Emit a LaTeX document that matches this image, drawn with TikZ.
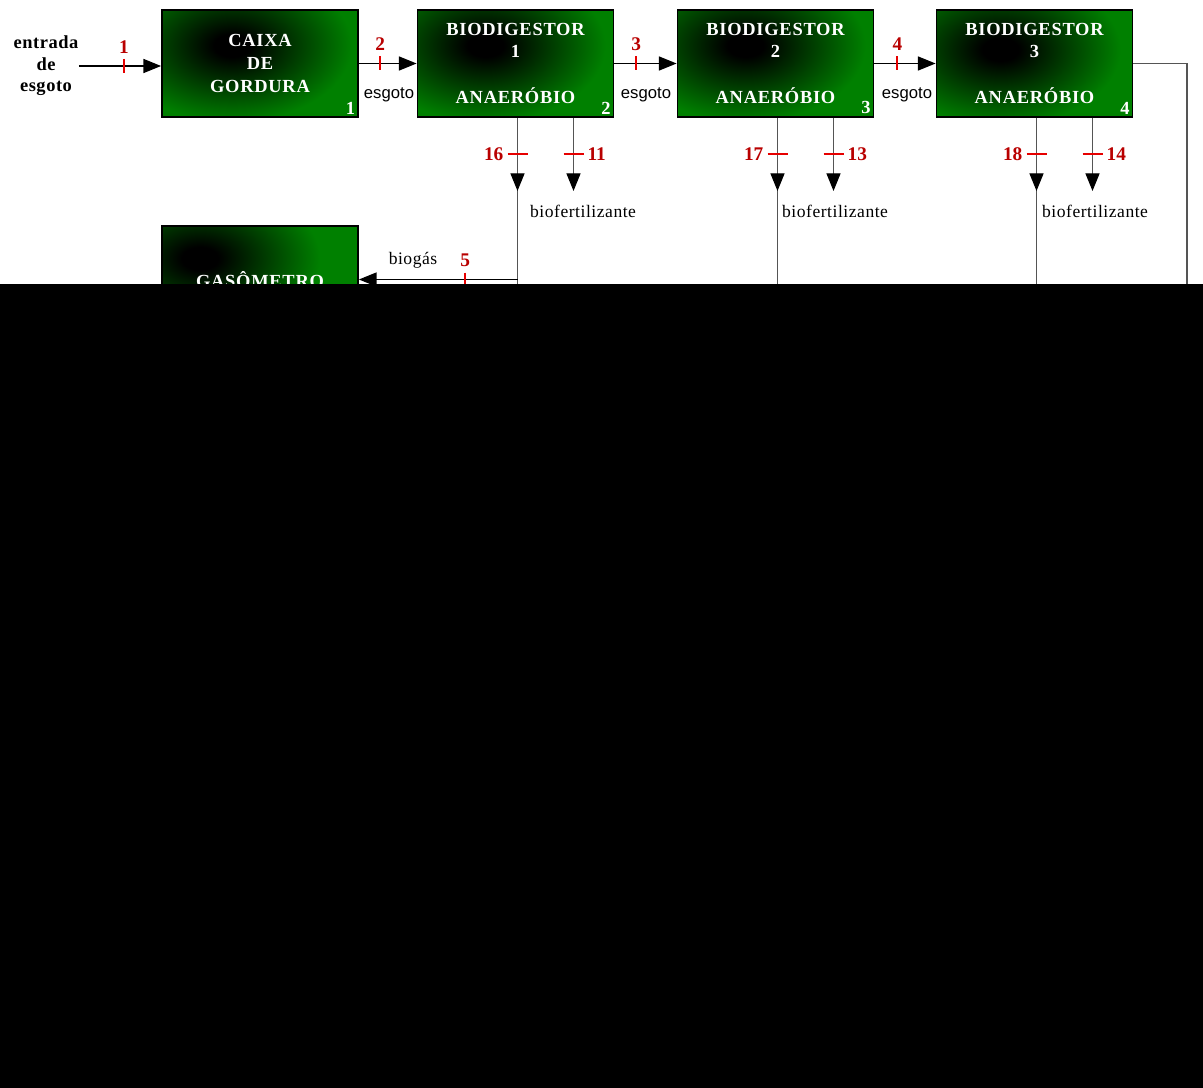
\documentclass[tikz,border=0pt]{standalone}
\usepackage{fontspec}
\setmainfont{Liberation Serif}
\setsansfont{Liberation Sans}
\usetikzlibrary{arrows.meta,positioning,calc}

\definecolor{boxgreen}{RGB}{0,128,0}
\definecolor{numred}{RGB}{185,0,0}
\definecolor{tickred}{RGB}{230,0,0}
\definecolor{pipegray}{RGB}{85,85,85}

\pgfdeclareradialshading{unitshade}{\pgfpoint{0bp}{0bp}}{%
  color(0bp)=(black); color(1.5bp)=(black); color(10bp)=(boxgreen); color(50bp)=(boxgreen)}

\newcommand{\unitfont}{\fontsize{10.5}{12.2}\selectfont\bfseries\addfontfeatures{LetterSpace=4}}

\tikzset{
  unit/.style={draw=black, line width=1.1pt, fill=boxgreen, text=white,
    minimum width=3.92cm, minimum height=2.14cm, inner sep=0pt, align=center,
    font=\unitfont,
    path picture={\shade[shading=unitshade]
      ($(path picture bounding box.center)+(#1)$) ellipse (6cm and 3.8cm);}},
  unit/.default={-28,-18},
  unitnum/.style={text=white, font=\fontsize{10.5}{12}\selectfont\bfseries, inner sep=2pt, anchor=south east},
  flow/.style={draw=black, line width=0.6pt, -{Triangle[length=10pt,width=8pt]}},
  pipe/.style={draw=pipegray, line width=0.6pt},
  down/.style={pipe, -{Triangle[length=10pt,width=8pt,black]}},
  tick/.style={draw=tickred, line width=1.1pt},
  num/.style={text=numred, font=\fontsize{11}{12}\selectfont\bfseries, inner sep=1pt},
  entr/.style={align=center, inner sep=0pt, font=\fontsize{10.5}{12.2}\selectfont\bfseries\addfontfeatures{LetterSpace=3}},
  esg/.style={font=\sffamily\fontsize{9.5}{11}\selectfont, inner sep=1pt},
  fert/.style={font=\fontsize{10}{12}\selectfont\addfontfeatures{LetterSpace=3}, inner sep=1pt, anchor=west}
}

\begin{document}
\begin{tikzpicture}[x=0.02cm, y=-0.02cm]
  \useasboundingbox (0,0) rectangle (1203,1088);
  \fill[white] (0,0) rectangle (1203,1088);

  % unidades
  \node[unit={-28,-18}] (caixa) at (260,63.5) {CAIXA\\[1pt]DE\\[1pt]GORDURA};
  \node[unitnum] at (caixa.south east) {1};
  \node[unit={-30,-18}] (bioA) at (515.5,63.5) {BIODIGESTOR\\1\\[14pt]ANAERÓBIO};
  \node[unitnum] at (bioA.south east) {2};
  \node[unit={-30,-18}] (bioB) at (775.5,63.5) {BIODIGESTOR\\2\\[14pt]ANAERÓBIO};
  \node[unitnum] at (bioB.south east) {3};
  \node[unit={-34,-14}] (bioC) at (1034.5,63.5) {BIODIGESTOR\\3\\[14pt]ANAERÓBIO};
  \node[unitnum] at (bioC.south east) {4};
  \node[unit={-60,-21}] (gas) at (260,279.5) {GASÔMETRO};

  \node[entr] (entrada) at (46,66) {entrada\\de\\esgoto};

  % linha de esgoto
  \draw[flow] (entrada.east) -- coordinate[pos=.55] (t1) (entrada.east -| caixa.west);
  \draw[flow] (caixa.east) -- coordinate[pos=.37] (t2) (bioA.west);
  \draw[flow] (bioA.east) -- coordinate[pos=.35] (t3) (bioB.west);
  \draw[flow] (bioB.east) -- coordinate[pos=.375] (t4) (bioC.west);
  \foreach \t in {t1,t2,t3,t4}
    \draw[tick] (\t) ++(0,-7) -- ++(0,14);
  \node[num, above=6pt of t1] {1};
  \node[num, above=6pt of t2] {2};
  \node[num, above=6pt of t3] {3};
  \node[num, above=6pt of t4] {4};
  \node[esg] at (389,95) {esgoto};
  \node[esg] at (646,95) {esgoto};
  \node[esg] at (907,95) {esgoto};

  % saidas de biofertilizante
  \foreach \b/\l/\r/\fx in {bioA/16/11/528, bioB/17/13/780, bioC/18/14/1040}{
    \coordinate (\b-l) at ($(\b.south)+(2,0)$);
    \coordinate (\b-r) at ($(\b.south)+(58,0)$);
    \draw[pipe] (\b-l) -- ++(0,73) coordinate (\b-la) -- ++(0,120);
    \draw[down] (\b-l) -- (\b-la);
    \draw[down] (\b-r) -- ++(0,73);
    \draw[tick] ($(\b-l)+(-10,36)$) -- ++(20,0);
    \draw[tick] ($(\b-r)+(-10,36)$) -- ++(20,0);
    \node[num, anchor=east] at ($(\b-l)+(-12,36)$) {\l};
    \node[num, anchor=west] at ($(\b-r)+(12,36)$) {\r};
    \node[fert] at (\fx,211) {biofertilizante};
  }
  \draw[pipe] (bioC.east) -| (1187,300);

  % biogas
  \coordinate (gsrc) at (gas.east -| bioA-l);
  \draw[flow] (gsrc) -- coordinate[pos=.33] (t5) (gas.east);
  \draw[tick] (t5) ++(0,-7) -- ++(0,14);
  \node[num, above=6pt of t5] {5};
  \node[fert, anchor=center] at (413,260) {biogás};

  % parte inferior da imagem
  \fill[black] (0,284) rectangle (1203,1088);
\end{tikzpicture}
\end{document}
